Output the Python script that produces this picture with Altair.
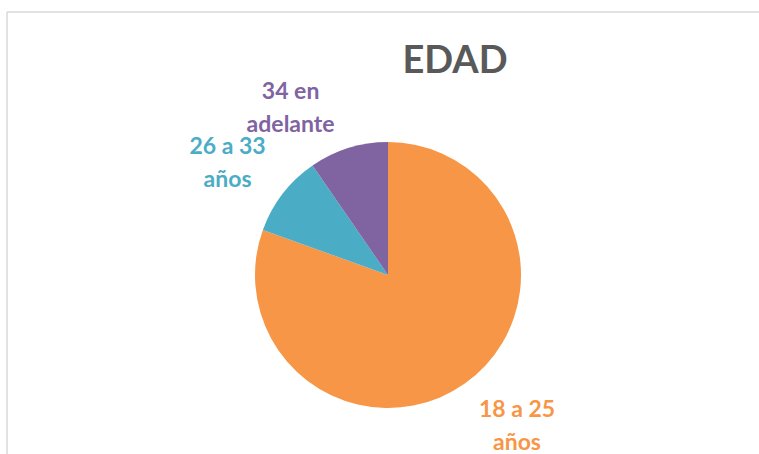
import altair as alt
import pandas as pd

labels = ["18 a 25\naños", "26 a 33\naños", "34 en\nadelante"]
values = [80.5, 9.9, 9.6]
colors = ["#F79646", "#4BACC6", "#8064A2"]
order = [0, 1, 2]
title_text = "EDAD"

df = pd.DataFrame({"label": labels, "value": values, "ord": order})

color_scale = alt.Scale(domain=labels, range=colors)

base = alt.Chart(df).encode(
    theta=alt.Theta("value:Q", stack=True),
    order=alt.Order("ord:Q"),
)

pie = base.mark_arc(radius=133).encode(
    color=alt.Color("label:N", scale=color_scale, legend=None)
)

# label offsets (style only)
offsets = [(14, -29), (-2, -6), (-38, 8)]
text_layers = []
for lab, (dx, dy) in zip(labels, offsets):
    t = base.mark_text(
        radius=200, dx=dx, dy=dy, font="Lato", fontWeight="bold", fontSize=23,
        lineBreak="\n", lineHeight=33, align="center", baseline="middle",
    ).encode(
        text=alt.condition(alt.datum.label == lab, alt.Text("label:N"), alt.value("")),
        color=alt.Color("label:N", scale=color_scale, legend=None),
    )
    text_layers.append(t)

frame = alt.Chart(alt.Data(values=[{"t": title_text}]))
top_line = frame.mark_rule(color="#d9d9d9", strokeWidth=1.5).encode(
    x=alt.value(-10), x2=alt.value(742), y=alt.value(-84)
)
left_line = frame.mark_rule(color="#d9d9d9", strokeWidth=1.5).encode(
    x=alt.value(-10), y=alt.value(-84), y2=alt.value(358)
)
title = frame.mark_text(
    font="Lato", fontWeight="bold", fontSize=38, color="#595959",
    align="center", baseline="alphabetic",
).encode(x=alt.value(438), y=alt.value(-23), text="t:N")

chart = alt.layer(top_line, left_line, title, pie, *text_layers).properties(
    width=742,
    height=358,
    background="white",
    autosize=alt.AutoSizeParams(type="none"),
    padding={"left": 17, "top": 96, "right": 0, "bottom": 0},
).configure_view(stroke="transparent", strokeWidth=0)

chart.save("out.html", embed_options={"renderer": "svg", "actions": False})
